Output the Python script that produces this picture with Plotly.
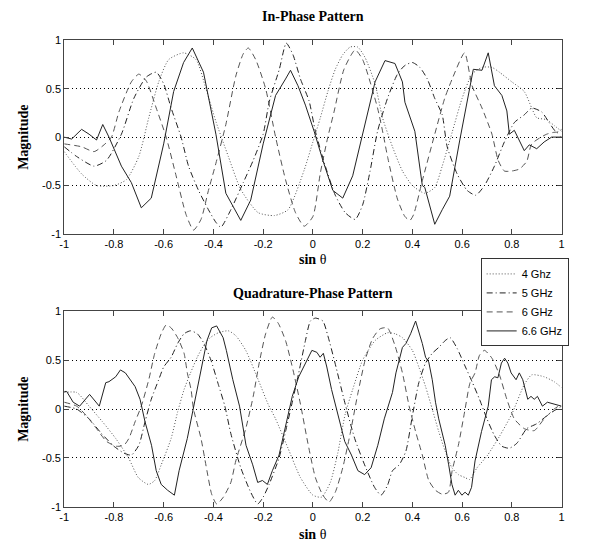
import plotly.graph_objects as go

# ---------------- data ----------------
x_ticks = [-1, -0.8, -0.6, -0.4, -0.2, 0, 0.2, 0.4, 0.6, 0.8, 1]
x_tick_labels = ["-1", "-0.8", "-0.6", "-0.4", "-0.2", "0", "0.2", "0.4", "0.6", "0.8", "1"]
y_ticks = [-1, -0.5, 0, 0.5, 1]
y_tick_labels = ["-1", "-0.5", "0", "0.5", "1"]

series_names = ["4 Ghz", "5 GHz", "6 GHz", "6.6 GHz"]

# In-Phase pattern
top_4ghz = [[-1,-0.15],[-0.93,-0.38],[-0.87,-0.5],[-0.8,-0.5],[-0.75,-0.44],[-0.7,-0.2],[-0.66,0.2],
            [-0.62,0.57],[-0.58,0.8],[-0.52,0.87],[-0.47,0.8],[-0.43,0.5],[-0.39,0.16],[-0.34,-0.2],
            [-0.29,-0.54],[-0.22,-0.78],[-0.155,-0.81],[-0.1,-0.75],[-0.035,-0.34],[0.0,-0.05],
            [0.03,0.2],[0.06,0.47],[0.09,0.7],[0.12,0.85],[0.15,0.93],[0.18,0.93],[0.21,0.82],
            [0.25,0.55],[0.28,0.2],[0.32,-0.1],[0.36,-0.35],[0.4,-0.5],[0.45,-0.58],[0.49,-0.52],
            [0.52,-0.3],[0.56,0.05],[0.6,0.4],[0.64,0.65],[0.68,0.72],[0.72,0.72],[0.75,0.67],
            [0.8,0.57],[0.85,0.47],[0.88,0.3],[0.9,0.2],[0.94,0.18],[0.97,0.12],[1.0,0.06]]
top_5ghz = [[-1,-0.1],[-0.95,-0.2],[-0.88,-0.3],[-0.83,-0.24],[-0.77,0.03],[-0.72,0.4],[-0.67,0.62],
            [-0.63,0.67],[-0.6,0.55],[-0.57,0.3],[-0.53,0.0],[-0.5,-0.3],[-0.46,-0.55],[-0.42,-0.75],
            [-0.39,-0.88],[-0.37,-0.93],[-0.33,-0.75],[-0.28,-0.47],[-0.24,-0.24],[-0.2,0.03],
            [-0.175,0.37],[-0.135,0.7],[-0.107,0.97],[-0.08,0.85],[-0.05,0.6],[-0.015,0.37],
            [0.01,0.06],[0.05,-0.3],[0.09,-0.6],[0.13,-0.78],[0.17,-0.85],[0.2,-0.7],[0.23,-0.35],
            [0.26,0.06],[0.3,0.4],[0.34,0.65],[0.37,0.74],[0.4,0.77],[0.43,0.72],[0.46,0.6],
            [0.49,0.4],[0.52,0.23],[0.54,-0.1],[0.58,-0.38],[0.62,-0.55],[0.655,-0.6],[0.69,-0.5],
            [0.73,-0.3],[0.77,-0.05],[0.81,0.15],[0.85,0.23],[0.88,0.3],[0.92,0.26],[0.95,0.15],
            [0.98,0.05],[1.0,0.08]]
top_6ghz = [[-1,-0.07],[-0.93,-0.1],[-0.88,-0.15],[-0.84,-0.08],[-0.81,0.0],[-0.78,0.26],[-0.73,0.57],
            [-0.7,0.65],[-0.67,0.58],[-0.63,0.3],[-0.59,0.0],[-0.55,-0.4],[-0.51,-0.8],[-0.48,-0.96],
            [-0.45,-0.85],[-0.42,-0.55],[-0.39,-0.27],[-0.35,0.13],[-0.31,0.63],[-0.28,0.86],
            [-0.26,0.92],[-0.23,0.8],[-0.19,0.5],[-0.15,0.0],[-0.11,-0.44],[-0.07,-0.78],
            [-0.035,-0.92],[0.0,-0.82],[0.03,-0.37],[0.06,0.0],[0.085,0.26],[0.125,0.7],[0.17,0.9],
            [0.2,0.8],[0.26,0.3],[0.285,0.0],[0.3,-0.2],[0.34,-0.64],[0.37,-0.82],[0.39,-0.86],
            [0.405,-0.8],[0.44,-0.45],[0.49,0.03],[0.53,0.4],[0.56,0.6],[0.61,0.87],[0.64,0.53],
            [0.68,0.3],[0.72,0.03],[0.745,-0.24],[0.77,-0.35],[0.8,-0.35],[0.83,-0.33],[0.86,-0.25],
            [0.88,-0.07],[0.94,0.03],[0.98,0.05],[1.0,0.0]]
top_66ghz = [[-1,0],[-0.97,-0.02],[-0.93,0.08],[-0.9,0.03],[-0.87,-0.03],[-0.845,0.13],[-0.82,0.0],
             [-0.77,-0.3],[-0.73,-0.47],[-0.69,-0.73],[-0.65,-0.63],[-0.6,-0.07],[-0.56,0.47],
             [-0.52,0.77],[-0.485,0.92],[-0.44,0.67],[-0.39,0.03],[-0.35,-0.58],[-0.29,-0.86],
             [-0.25,-0.65],[-0.2,-0.07],[-0.15,0.43],[-0.11,0.6],[-0.09,0.69],[-0.06,0.53],
             [-0.03,0.33],[0.005,0.06],[0.04,-0.24],[0.08,-0.55],[0.12,-0.63],[0.16,-0.4],
             [0.21,0.13],[0.25,0.57],[0.29,0.79],[0.33,0.76],[0.36,0.57],[0.37,0.36],[0.41,0.06],
             [0.44,-0.5],[0.45,-0.52],[0.49,-0.9],[0.52,-0.75],[0.55,-0.61],[0.59,-0.04],[0.62,0.37],
             [0.645,0.7],[0.68,0.69],[0.705,0.87],[0.73,0.53],[0.76,0.43],[0.78,0.27],[0.79,0.03],
             [0.81,0.07],[0.85,-0.14],[0.87,-0.08],[0.9,-0.12],[0.93,-0.05],[0.96,0.0],[1.0,0.0]]

# Quadrature-Phase pattern
bot_4ghz = [[-1,0.17],[-0.95,0.17],[-0.9,0.03],[-0.846,-0.13],[-0.793,-0.3],[-0.741,-0.5],[-0.702,-0.7],
            [-0.662,-0.77],[-0.636,-0.73],[-0.61,-0.57],[-0.57,-0.3],[-0.544,-0.03],[-0.518,0.2],
            [-0.492,0.37],[-0.465,0.53],[-0.439,0.65],[-0.413,0.73],[-0.38,0.78],[-0.34,0.8],
            [-0.31,0.75],[-0.27,0.6],[-0.22,0.3],[-0.18,0.05],[-0.15,-0.1],[-0.1,-0.4],[-0.05,-0.7],
            [0.0,-0.88],[0.035,-0.9],[0.07,-0.75],[0.1,-0.45],[0.13,-0.05],[0.16,0.2],[0.2,0.5],
            [0.25,0.7],[0.3,0.78],[0.33,0.77],[0.36,0.73],[0.4,0.6],[0.426,0.43],[0.453,0.23],
            [0.48,0.0],[0.506,-0.23],[0.532,-0.43],[0.559,-0.6],[0.585,-0.67],[0.612,-0.7],
            [0.63,-0.72],[0.66,-0.6],[0.7,-0.48],[0.75,-0.28],[0.8,-0.05],[0.85,0.25],[0.88,0.35],
            [0.93,0.33],[0.97,0.28],[1.0,0.22]]
bot_5ghz = [[-1,0.03],[-0.95,0.0],[-0.9,-0.1],[-0.85,-0.25],[-0.8,-0.38],[-0.76,-0.45],[-0.73,-0.47],
            [-0.7,-0.37],[-0.675,-0.13],[-0.65,0.1],[-0.62,0.3],[-0.6,0.43],[-0.57,0.53],[-0.544,0.67],
            [-0.518,0.77],[-0.492,0.8],[-0.465,0.77],[-0.44,0.68],[-0.41,0.5],[-0.38,0.25],
            [-0.354,0.03],[-0.33,-0.25],[-0.29,-0.6],[-0.25,-0.85],[-0.222,-0.97],[-0.2,-0.9],
            [-0.176,-0.77],[-0.136,-0.5],[-0.11,-0.23],[-0.083,0.07],[-0.057,0.37],[-0.03,0.7],
            [-0.01,0.9],[0.01,0.93],[0.04,0.9],[0.06,0.75],[0.089,0.47],[0.128,0.07],[0.168,-0.3],
            [0.208,-0.57],[0.248,-0.8],[0.274,-0.88],[0.3,-0.78],[0.32,-0.63],[0.347,-0.57],
            [0.374,-0.43],[0.4,-0.07],[0.426,0.27],[0.453,0.47],[0.48,0.57],[0.506,0.63],[0.532,0.7],
            [0.552,0.73],[0.58,0.62],[0.61,0.45],[0.64,0.28],[0.67,0.1],[0.7,-0.1],[0.73,-0.27],
            [0.76,-0.38],[0.79,-0.4],[0.82,-0.35],[0.86,-0.2],[0.9,-0.15],[0.95,-0.05],[1.0,0.03]]
bot_6ghz = [[-1,0.07],[-0.95,0.03],[-0.91,-0.07],[-0.87,-0.2],[-0.83,-0.33],[-0.79,-0.38],[-0.76,-0.37],
            [-0.74,-0.3],[-0.715,-0.13],[-0.69,0.03],[-0.66,0.3],[-0.636,0.57],[-0.61,0.77],[-0.59,0.86],
            [-0.57,0.83],[-0.544,0.73],[-0.518,0.57],[-0.505,0.37],[-0.49,0.2],[-0.48,0.0],[-0.45,-0.3],
            [-0.426,-0.63],[-0.407,-0.87],[-0.387,-0.97],[-0.36,-0.9],[-0.33,-0.75],[-0.31,-0.53],
            [-0.27,-0.2],[-0.24,0.13],[-0.216,0.47],[-0.19,0.77],[-0.163,0.94],[-0.14,0.88],
            [-0.11,0.7],[-0.08,0.4],[-0.05,0.05],[-0.02,-0.35],[0.01,-0.7],[0.04,-0.88],[0.065,-0.95],
            [0.09,-0.85],[0.12,-0.6],[0.15,-0.25],[0.18,0.15],[0.21,0.5],[0.24,0.72],[0.27,0.82],
            [0.3,0.83],[0.33,0.65],[0.36,0.37],[0.387,0.03],[0.413,-0.23],[0.44,-0.47],[0.466,-0.73],
            [0.493,-0.83],[0.52,-0.87],[0.545,-0.85],[0.56,-0.63],[0.585,-0.37],[0.61,-0.03],
            [0.632,0.27],[0.652,0.37],[0.67,0.55],[0.69,0.6],[0.72,0.52],[0.75,0.35],[0.78,0.1],
            [0.81,-0.1],[0.85,-0.2],[0.89,-0.22],[0.93,-0.1],[0.97,0.0],[1.0,0.05]]
bot_66ghz = [[-1,0.18],[-0.99,0.18],[-0.964,0.07],[-0.938,0.03],[-0.898,0.15],[-0.872,0.07],[-0.859,0.03],
             [-0.833,0.27],[-0.82,0.28],[-0.793,0.33],[-0.774,0.4],[-0.754,0.37],[-0.728,0.28],
             [-0.715,0.23],[-0.695,0.1],[-0.675,-0.13],[-0.649,-0.37],[-0.63,-0.63],[-0.61,-0.77],
             [-0.584,-0.83],[-0.557,-0.88],[-0.538,-0.63],[-0.505,-0.3],[-0.479,0.03],[-0.452,0.4],
             [-0.426,0.7],[-0.407,0.83],[-0.387,0.85],[-0.361,0.73],[-0.348,0.6],[-0.322,0.3],
             [-0.295,0.03],[-0.269,-0.37],[-0.242,-0.57],[-0.222,-0.75],[-0.203,-0.73],[-0.183,-0.77],
             [-0.163,-0.63],[-0.136,-0.47],[-0.11,-0.17],[-0.083,0.13],[-0.057,0.33],[-0.024,0.5],
             [-0.004,0.6],[0.016,0.58],[0.029,0.53],[0.042,0.57],[0.056,0.43],[0.075,0.2],[0.102,-0.07],
             [0.128,-0.33],[0.155,-0.47],[0.181,-0.63],[0.208,-0.67],[0.234,-0.6],[0.261,-0.37],
             [0.287,-0.1],[0.32,0.17],[0.334,0.37],[0.347,0.5],[0.36,0.63],[0.374,0.67],[0.393,0.77],
             [0.413,0.9],[0.426,0.8],[0.44,0.67],[0.453,0.53],[0.466,0.48],[0.48,0.3],[0.493,0.07],
             [0.506,-0.1],[0.519,-0.23],[0.532,-0.37],[0.546,-0.57],[0.559,-0.77],[0.572,-0.88],
             [0.585,-0.83],[0.599,-0.88],[0.612,-0.85],[0.625,-0.88],[0.638,-0.8],[0.652,-0.53],
             [0.678,-0.23],[0.705,0.03],[0.718,0.3],[0.731,0.33],[0.744,0.32],[0.758,0.47],[0.771,0.52],
             [0.784,0.47],[0.797,0.37],[0.817,0.3],[0.83,0.37],[0.844,0.3],[0.864,0.1],[0.877,0.13],
             [0.89,0.1],[0.903,0.13],[0.923,0.03],[0.943,0.07],[0.97,0.05],[1.0,0.03]]

top_series = [top_4ghz, top_5ghz, top_6ghz, top_66ghz]
bot_series = [bot_4ghz, bot_5ghz, bot_6ghz, bot_66ghz]

# ---------------- styles ----------------
W, H = 608, 554
line_styles = [
    dict(color="#555555", dash="1px,2px", shape="spline"),
    dict(color="#222222", dash="6px,3px,1px,3px", shape="spline"),
    dict(color="#555555", dash="6px,4px", shape="spline"),
    dict(color="#222222", dash="solid", shape="linear"),
]

fig = go.Figure()
for panel, (series, xa, ya) in enumerate([(top_series, "x", "y"), (bot_series, "x2", "y2")]):
    for i, pts in enumerate(series):
        st = line_styles[i]
        fig.add_trace(go.Scatter(
            x=[p[0] for p in pts], y=[p[1] for p in pts],
            mode="lines", name=series_names[i], xaxis=xa, yaxis=ya,
            showlegend=(panel == 0),
            line=dict(color=st["color"], dash=st["dash"], width=1, shape=st["shape"], smoothing=0.6),
        ))

def px_x(p):
    return p / W

def px_y(p):
    return 1 - p / H

tick_font = dict(family="Liberation Sans, Arial, sans-serif", size=11, color="black")
common_x = dict(range=[-1, 1], tickvals=x_ticks, ticktext=x_tick_labels, ticks="inside", ticklen=5,
                tickcolor="#444", showline=True, linecolor="#444", linewidth=1, mirror="ticks",
                showgrid=False, zeroline=False, tickfont=tick_font, domain=[px_x(60), px_x(564)])
common_y = dict(range=[-1, 1], tickvals=y_ticks, ticktext=y_tick_labels, ticks="inside", ticklen=5,
                tickcolor="#444", showline=True, linecolor="#444", linewidth=1, mirror="ticks",
                showgrid=True, gridcolor="black", griddash="1px,3px", gridwidth=1, zeroline=False,
                tickfont=tick_font)

fig.update_layout(
    width=W, height=H, margin=dict(l=0, r=0, t=0, b=0),
    paper_bgcolor="white", plot_bgcolor="white",
    xaxis=dict(common_x, anchor="y"),
    yaxis=dict(common_y, anchor="x", domain=[px_y(233), px_y(35)]),
    xaxis2=dict(common_x, anchor="y2"),
    yaxis2=dict(common_y, anchor="x2", domain=[px_y(512), px_y(312)]),
    legend=dict(x=px_x(482), y=px_y(258), xanchor="left", yanchor="top",
                bgcolor="white", bordercolor="#333", borderwidth=1,
                font=dict(family="Liberation Sans, Arial, sans-serif", size=11, color="black"),
                tracegroupgap=0, itemwidth=30),
)

serif_b = dict(family="Liberation Serif, Times New Roman, serif", size=14, color="black")
annots = [
    ("<b>In-Phase Pattern</b>", 312, 11, 0),
    ("<b>Quadrature-Phase Pattern</b>", 312, 294, 0),
    ("<b>Magnitude</b>", 18, 134, -90),
    ("<b>Magnitude</b>", 18, 412, -90),
    ("<b>sin</b> θ", 312, 259, 0),
    ("<b>sin</b> θ", 312, 540, 0),
]
for text, ax_, ay_, ang in annots:
    fig.add_annotation(text=text, x=px_x(ax_), y=px_y(ay_), xref="paper", yref="paper",
                       showarrow=False, xanchor="center", yanchor="middle", textangle=ang,
                       font=serif_b)

fig.write_html("out.html", config={"displayModeBar": False},
               post_script="document.body.style.margin='0';document.body.style.overflow='hidden';")
